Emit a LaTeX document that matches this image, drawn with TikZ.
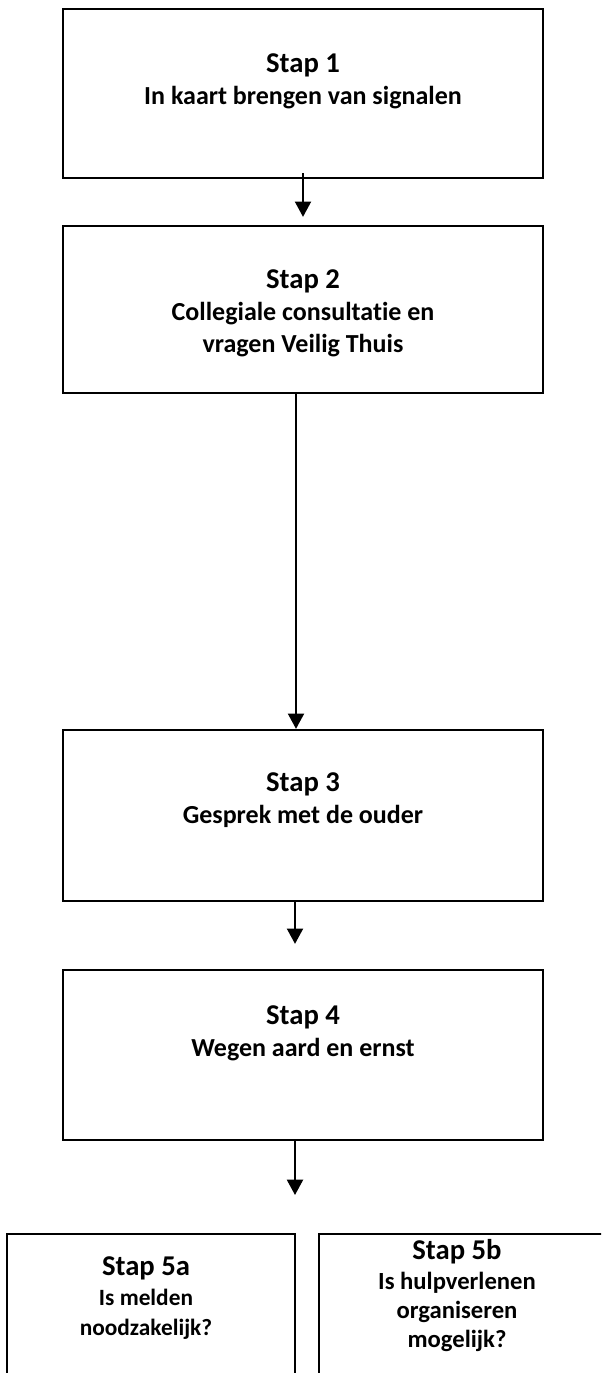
\documentclass[tikz,border=0pt]{standalone}
\usepackage{fontspec}
\setmainfont[Ligatures=NoCommon]{Carlito}
\usetikzlibrary{arrows.meta}
\begin{document}
\begin{tikzpicture}[x=0.75pt,y=-0.75pt,
  box/.style={draw=black,line width=1.7pt,rectangle,inner sep=0pt,fill=none},
  txt/.style={align=center,inner sep=0pt,font=\bfseries\fontsize{19.5}{24}\selectfont},
  conn/.style={line width=1.6pt,-{Triangle[width=12pt,length=11.5pt]}}]
\useasboundingbox (0,0) rectangle (601,1373);
\clip (0,0) rectangle (601,1373);
% boxes
\node[box,minimum width=360pt,minimum height=126.75pt] (b1) at (303,93.5) {};
\node[box,minimum width=360pt,minimum height=125.25pt] (b2) at (303,309.5) {};
\node[box,minimum width=360pt,minimum height=128.25pt] (b3) at (303,815.5) {};
\node[box,minimum width=360pt,minimum height=127.5pt] (b4) at (303,1055) {};
\node[box,minimum width=216pt,minimum height=139.5pt] (b5a) at (151,1327) {};
\node[box,minimum width=240.75pt,minimum height=139.5pt] (b5b) at (479.5,1327) {};
% texts
\node[txt] (t1) at (303,81) {{\fontsize{21.5}{24}\selectfont Stap 1}\\In kaart brengen van signalen};
\node[txt] (t2) at (303,313) {{\fontsize{21.5}{24}\selectfont Stap 2}\\Collegiale consultatie en\\vragen Veilig Thuis};
\node[txt] (t3) at (303,800) {{\fontsize{21.5}{24}\selectfont Stap 3}\\Gesprek met de ouder};
\node[txt] (t4) at (303,1033) {{\fontsize{21.5}{24}\selectfont Stap 4}\\Wegen aard en ernst};
\node[txt,font=\bfseries\fontsize{17.5}{22.5}\selectfont] (t5a) at (146,1298) {{\fontsize{21.5}{22.5}\selectfont Stap 5a}\\Is melden\\noodzakelijk?};
\node[txt,font=\bfseries\fontsize{18.5}{22}\selectfont] (t5b) at (457,1296) {{\fontsize{21.5}{22}\selectfont Stap 5b}\\Is hulpverlenen\\organiseren\\mogelijk?};
% connectors
\coordinate (e4) at (295,1195);
\draw[conn,shorten <=-4.5pt,shorten >=6pt] (b1.south) -- (b2.north);
\draw[conn] ([xshift=-5.25pt]b2.south) -- ([xshift=-5.25pt]b3.north);
\draw[conn,shorten <=-1.5pt,shorten >=18.75pt] ([xshift=-6pt]b3.south) -- ([xshift=-6pt]b4.north);
\draw[conn] ([xshift=-6pt]b4.south) -- (e4);
\end{tikzpicture}
\end{document}
